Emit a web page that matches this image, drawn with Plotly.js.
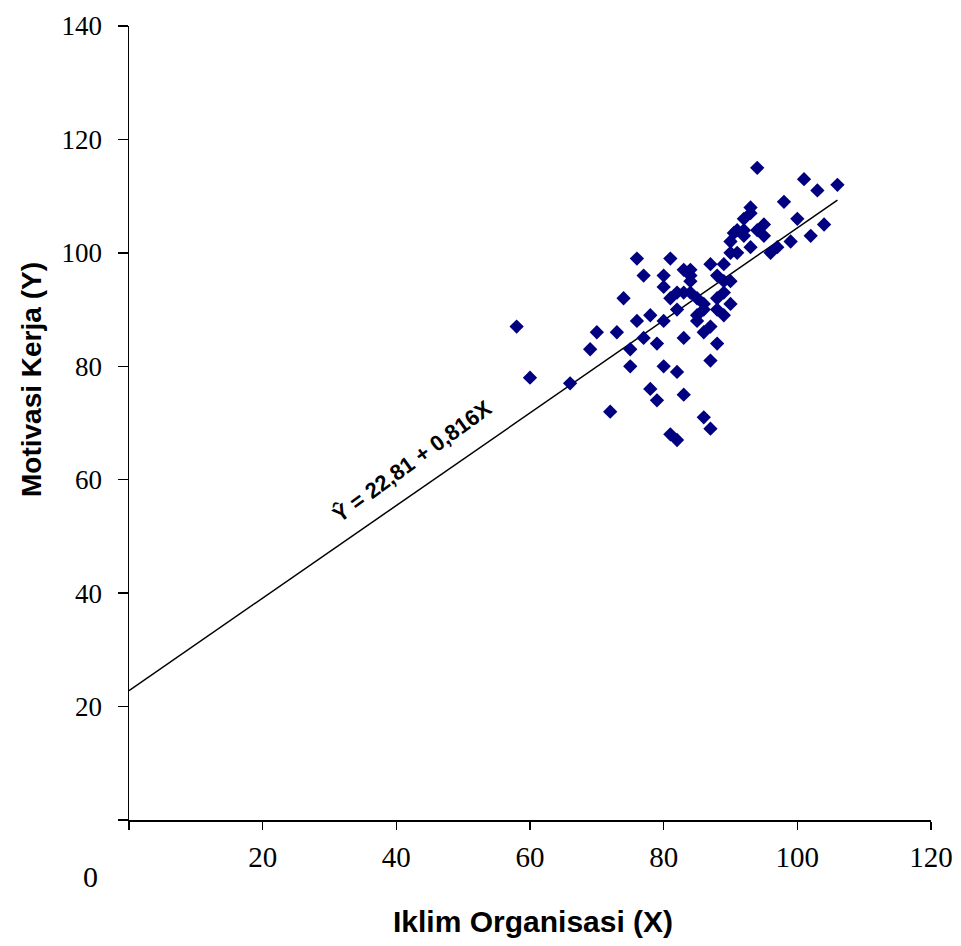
<!DOCTYPE html>
<html>
<head>
<meta charset="utf-8">
<script src="https://cdn.plot.ly/plotly-3.0.1.min.js"></script>
<style>html,body{margin:0;padding:0;background:#fff;}#chart{width:961px;height:946px;}</style>
</head>
<body>
<div id="chart"></div>
<script>
// Data: Iklim Organisasi (X) vs Motivasi Kerja (Y)
const xValues = [58,60,66,69,70,73,72,74,75,75,76,76,77,77,78,78,79,79,80,80,80,80,81,81,81,82,82,82,82,83,83,83,83,84,84,84,84,85,85,85,86,86,86,86,87,87,87,87,88,88,88,88,89,89,89,89,90,90,90,90,90.5,91,91,92,92,92,93,93,93,94,94,95,95,96,97,98,99,100,101,102,103,104,106];
const yValues = [87,78,77,83,86,86,72,92,83,80,99,88,96,85,89,76,74,84,96,94,88,80,99,92,68,67,79,90,93,97,85,75,93,97,95,93,96,92,89,88,91,90,86,71,98,87,81,69,84,96,92,90,98,95,93,89,102,100,95,91,103.5,104,100,106,104,103,108,107,101,115,104,105,103,100,101,109,102,106,113,103,111,105,112];
const xTickVals = [0,20,40,60,80,100,120];
const xTickText = ['','20','40','60','80','100','120'];
const yTickVals = [0,20,40,60,80,100,120,140];
const yTickText = ['','20','40','60','80','100','120','140'];
const intercept = 22.81;
const slope = 0.816;
const lineX = [0,106];
const lineY = lineX.map(v => intercept + slope*v);
const eqText = 'Ŷ = 22,81 + 0,816X';
const xTitle = 'Iklim Organisasi (X)';
const yTitle = 'Motivasi Kerja (Y)';

const traces = [
  {x: lineX, y: lineY, type: 'scatter', mode: 'lines', line: {color: '#000', width: 1.5}, hoverinfo: 'skip'},
  {x: xValues, y: yValues, type: 'scatter', mode: 'markers',
   marker: {symbol: 'diamond', size: 11, color: '#000080', line: {width: 0}}}
];

const PW = 802, PH = 794;
const layout = {
  width: 961, height: 946,
  margin: {l: 129, r: 30, t: 26, b: 126},
  paper_bgcolor: '#fff', plot_bgcolor: '#fff',
  showlegend: false,
  xaxis: {
    range: [0,120], tickvals: xTickVals, ticktext: xTickText,
    showgrid: false, zeroline: false, showline: true, linecolor: '#000', linewidth: 2,
    ticks: 'outside', ticklen: 8, tickwidth: 1.5, tickcolor: '#000',
    ticklabelstandoff: 2,
    tickfont: {family: 'Liberation Serif, Times New Roman, serif', size: 29, color: '#000'}
  },
  yaxis: {
    range: [0,140], tickvals: yTickVals, ticktext: yTickText,
    showgrid: false, zeroline: false, showline: true, linecolor: '#000', linewidth: 1.5,
    ticks: 'outside', ticklen: 10, tickwidth: 1.5, tickcolor: '#000',
    ticklabelstandoff: 10,
    tickfont: {family: 'Liberation Serif, Times New Roman, serif', size: 27, color: '#000'}
  },
  annotations: [
    {text: '0', xref: 'paper', yref: 'paper', x: (90-129)/PW, y: (820-877)/PH, xanchor: 'center', yanchor: 'middle', showarrow: false,
     font: {family: 'Liberation Serif, Times New Roman, serif', size: 30, color: '#000'}},
    {text: '<b>' + xTitle + '</b>', xref: 'paper', yref: 'paper', x: (533-129)/PW, y: (820-921)/PH, xanchor: 'center', yanchor: 'middle', showarrow: false,
     font: {family: 'Liberation Sans, Arial, sans-serif', size: 30, color: '#000'}},
    {text: '<b>' + yTitle + '</b>', xref: 'paper', yref: 'paper', x: (31-129)/PW, y: (820-380)/PH, xanchor: 'center', yanchor: 'middle', showarrow: false, textangle: -90,
     font: {family: 'Liberation Sans, Arial, sans-serif', size: 28, color: '#000'}},
    {text: '<b>' + eqText + '</b>', x: 42.3, y: 63.3, xref: 'x', yref: 'y', showarrow: false, textangle: -36,
     font: {family: 'Liberation Sans, Arial, sans-serif', size: 22, color: '#000'}}
  ]
};

Plotly.newPlot('chart', traces, layout, {staticPlot: true});
</script>
</body>
</html>
